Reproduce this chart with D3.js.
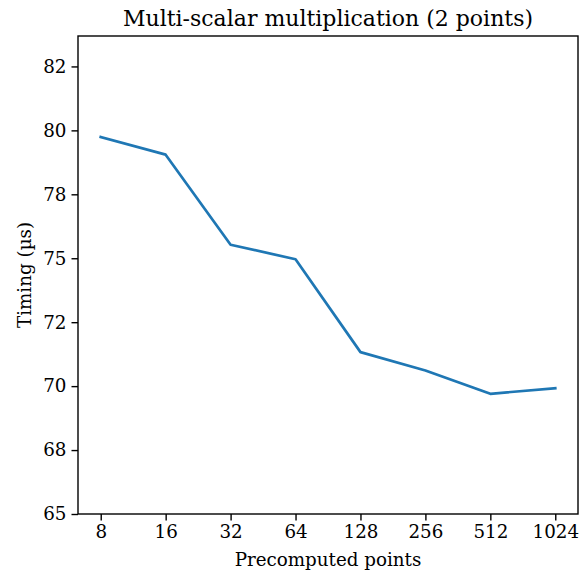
<!DOCTYPE html>
<html>
<head>
<meta charset="utf-8">
<script src="https://cdn.jsdelivr.net/npm/d3@7"></script>
<style>
  body { margin: 0; background: #fff; }
  text { font-family: "DejaVu Serif", serif; fill: #000; }
</style>
</head>
<body>
<svg id="chart" width="587" height="573"></svg>
<script>
const width = 587;
const height = 573;
const margin = { top: 36, right: 9, bottom: 59, left: 78 };

// data
const categories = ["8", "16", "32", "64", "128", "256", "512", "1024"];
const timings = [79.74, 79.05, 75.53, 74.96, 71.33, 70.61, 69.70, 69.92];
const yTicks = [65, 67.5, 70, 72.5, 75, 77.5, 80, 82.5];
const yTickLabels = ["65", "68", "70", "72", "75", "78", "80", "82"];

const innerW = width - margin.left - margin.right;
const innerH = height - margin.top - margin.bottom;

const svg = d3.select("#chart");
const g = svg.append("g")
    .attr("transform", `translate(${margin.left}, ${margin.top})`);

// categorical x, matplotlib-style 5% margin
const x = d3.scaleLinear()
    .domain([-0.35, categories.length - 1 + 0.35])
    .range([0, innerW]);

const y = d3.scaleLinear()
    .domain([65, 83.69])
    .range([innerH, 0]);

const tickFont = "18.3px";

// x axis
g.append("g")
    .attr("transform", `translate(0, ${innerH})`)
    .call(d3.axisBottom(x)
        .tickValues(d3.range(categories.length))
        .tickFormat((d) => categories[d])
        .tickSize(6.5)
        .tickPadding(5))
    .call((a) => a.select(".domain").remove())
    .call((a) => a.selectAll(".tick line").attr("stroke", "#000").attr("stroke-width", 1.4))
    .call((a) => a.selectAll(".tick text").style("font-size", tickFont)
        .style("font-family", "DejaVu Serif"));

// y axis
g.append("g")
    .call(d3.axisLeft(y)
        .tickValues(yTicks)
        .tickFormat((d, i) => yTickLabels[i])
        .tickSize(6.5)
        .tickPadding(5))
    .call((a) => a.select(".domain").remove())
    .call((a) => a.selectAll(".tick line").attr("stroke", "#000").attr("stroke-width", 1.4))
    .call((a) => a.selectAll(".tick text").style("font-size", tickFont)
        .style("font-family", "DejaVu Serif"));

// the line
const line = d3.line()
    .x((d, i) => x(i))
    .y((d) => y(d));

g.append("path")
    .datum(timings)
    .attr("fill", "none")
    .attr("stroke", "#1f77b4")
    .attr("stroke-width", 2.7)
    .attr("stroke-linejoin", "round")
    .attr("stroke-linecap", "square")
    .attr("d", line);

// frame
g.append("rect")
    .attr("width", innerW)
    .attr("height", innerH)
    .attr("fill", "none")
    .attr("stroke", "#000")
    .attr("stroke-width", 1.4);

// labels
svg.append("text")
    .attr("x", margin.left + innerW / 2)
    .attr("y", 26)
    .attr("text-anchor", "middle")
    .style("font-size", "22px")
    .text("Multi-scalar multiplication (2 points)");

svg.append("text")
    .attr("x", margin.left + innerW / 2)
    .attr("y", 566)
    .attr("text-anchor", "middle")
    .style("font-size", tickFont)
    .text("Precomputed points");

svg.append("text")
    .attr("transform", `translate(31, ${margin.top + innerH / 2}) rotate(-90)`)
    .attr("text-anchor", "middle")
    .style("font-size", tickFont)
    .text("Timing (µs)");
</script>
</body>
</html>
